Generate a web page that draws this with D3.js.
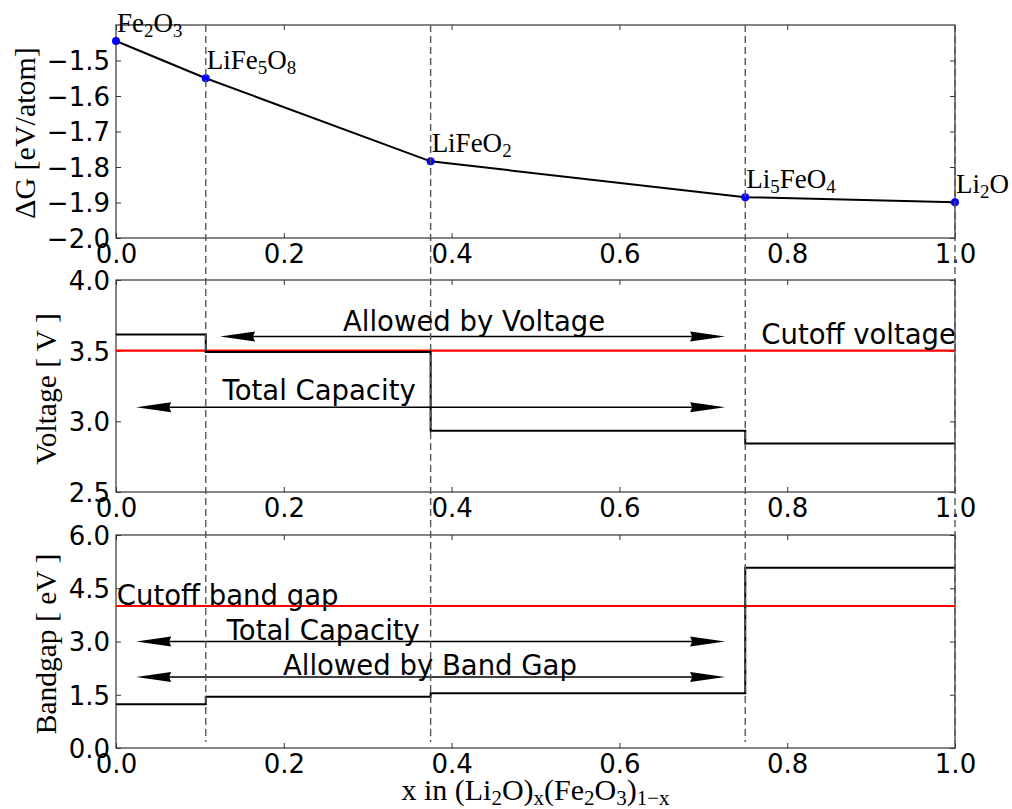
<!DOCTYPE html>
<html><head><meta charset="utf-8">
<script src="https://cdn.jsdelivr.net/npm/d3@7"></script>
<style>body{margin:0;background:#fff}</style>
</head><body>
<svg id="c" width="1012" height="809"></svg>
<script>
// ---------- data ----------
const phaseNames = [
  [["Fe",0],["2",1],["O",0],["3",1]],
  [["LiFe",0],["5",1],["O",0],["8",1]],
  [["LiFeO",0],["2",1]],
  [["Li",0],["5",1],["FeO",0],["4",1]],
  [["Li",0],["2",1],["O",0]]
];
const phaseX  = [0, 0.107, 0.375, 0.75, 1.0];
const deltaG  = [-1.445, -1.55, -1.784, -1.885, -1.899];
const voltage = [3.615, 3.49, 2.934, 2.844];
const bandgap = [1.23, 1.445, 1.54, 5.08];
const cutoffVoltage = 3.5;
const cutoffBandgap = 4.0;
const xTicks = [0, 0.2, 0.4, 0.6, 0.8, 1.0];
const gTicks = [-2.0, -1.9, -1.8, -1.7, -1.6, -1.5];
const vTicks = [2.5, 3.0, 3.5, 4.0];
const bTicks = [0, 1.5, 3.0, 4.5, 6.0];
const vArrowX1 = [0.124, 0.024];
const vArrowX2 = [0.726, 0.726];
const vArrowY  = [3.6, 3.1];
const vArrowLabels = ["Allowed by Voltage", "Total Capacity"];
const bArrowX1 = [0.024, 0.024];
const bArrowX2 = [0.726, 0.726];
const bArrowY  = [3.0, 2.0];
const bArrowLabels = ["Total Capacity", "Allowed by Band Gap"];

// ---------- layout ----------
const svg = d3.select("#c");
const L = 116, R = 955;
const SANS = "DejaVu Sans", SERIF = "Liberation Serif";
const FS = 26, AFS = 27.5;
const x = d3.scaleLinear().domain([0,1]).range([L,R]);
const panels = [
  {y: d3.scaleLinear().domain([-2.0,-1.4]).range([238,25]), ticks: gTicks, fmt: d=>d3.format(".1f")(d).replace("-","\u2212")},
  {y: d3.scaleLinear().domain([2.5,4.0]).range([492,280]), ticks: vTicks, fmt: d3.format(".1f")},
  {y: d3.scaleLinear().domain([0,6]).range([748,535]), ticks: bTicks, fmt: d3.format(".1f")}
];

function rich(sel, parts, size){
  const sh = size*0.17;
  let shift = 0;
  parts.forEach(([s,sub])=>{
    const t = sel.append("tspan").text(s);
    const want = sub ? sh : 0;
    if(sub) t.attr("font-size", size*0.7);
    t.attr("dy", want - shift);
    shift = want;
  });
  return sel;
}

// frames, ticks
panels.forEach(p=>{
  const [y0,y1] = p.y.range();
  const g = svg.append("g");
  g.append("rect").attr("x",L).attr("y",y1).attr("width",R-L).attr("height",y0-y1)
    .attr("fill","none").attr("stroke","#333").attr("stroke-width",1.2);
  g.append("g").attr("transform",`translate(0,${y0})`)
    .call(d3.axisBottom(x).tickValues(xTicks).tickSizeInner(-5).tickSizeOuter(0).tickFormat(d3.format(".1f")).tickPadding(7))
    .call(a=>{a.select(".domain").remove(); a.selectAll("line").attr("stroke","#333");
      a.selectAll("text").attr("font-family",SANS).attr("font-size",FS).attr("fill","#000").attr("dy","0.71em");});
  g.append("g").attr("transform",`translate(0,${y1})`)
    .call(d3.axisTop(x).tickValues(xTicks).tickSizeInner(-5).tickSizeOuter(0).tickFormat(""))
    .call(a=>{a.select(".domain").remove(); a.selectAll("line").attr("stroke","#333");});
  g.append("g").attr("transform",`translate(${L},0)`)
    .call(d3.axisLeft(p.y).tickValues(p.ticks).tickSizeInner(-5).tickSizeOuter(0).tickFormat(p.fmt).tickPadding(6))
    .call(a=>{a.select(".domain").remove(); a.selectAll("line").attr("stroke","#333");
      a.selectAll("text").attr("font-family",SANS).attr("font-size",FS).attr("fill","#000").attr("dy","0.36em");});
  g.append("g").attr("transform",`translate(${R},0)`)
    .call(d3.axisRight(p.y).tickValues(p.ticks).tickSizeInner(-5).tickSizeOuter(0).tickFormat(""))
    .call(a=>{a.select(".domain").remove(); a.selectAll("line").attr("stroke","#333");});
});

// ---------- panel 1 ----------
const p1 = panels[0];
const pts = phaseX.map((v,i)=>({x:v, g:deltaG[i], name:phaseNames[i]}));
svg.append("path").datum(pts)
  .attr("d", d3.line().x(d=>x(d.x)).y(d=>p1.y(d.g)))
  .attr("fill","none").attr("stroke","#000").attr("stroke-width",2);
svg.selectAll(".pt").data(pts).enter().append("circle")
  .attr("cx",d=>x(d.x)).attr("cy",d=>p1.y(d.g)).attr("r",4).attr("fill","#0000ff");
pts.forEach(d=>{
  const t = svg.append("text").attr("x",x(d.x)+1).attr("y",p1.y(d.g)-9)
    .attr("font-family",SERIF).attr("font-size",27).attr("fill","#000");
  rich(t, d.name, 27);
});

// ---------- step lines ----------
function stepPath(vals, yS){
  const segs = vals.map((v,i)=>({x:phaseX[i], v}));
  segs.push({x:phaseX[vals.length], v:vals[vals.length-1]});
  return d3.line().x(d=>x(d.x)).y(d=>yS(d.v)).curve(d3.curveStepAfter)(segs);
}
const p2 = panels[1], p3 = panels[2];
svg.append("line").attr("x1",L).attr("x2",R).attr("y1",p2.y(cutoffVoltage)).attr("y2",p2.y(cutoffVoltage))
  .attr("stroke","#ff0000").attr("stroke-width",2.2);
svg.append("path").attr("d",stepPath(voltage,p2.y)).attr("fill","none").attr("stroke","#000").attr("stroke-width",2);
svg.append("line").attr("x1",L).attr("x2",R).attr("y1",p3.y(cutoffBandgap)).attr("y2",p3.y(cutoffBandgap))
  .attr("stroke","#ff0000").attr("stroke-width",2.2);
svg.append("path").attr("d",stepPath(bandgap,p3.y)).attr("fill","none").attr("stroke","#000").attr("stroke-width",2);

// ---------- arrows ----------
function arrow(x1,x2,yv,yS){
  const y = yS(yv), a = x(x1), b = x(x2);
  const g = svg.append("g");
  g.append("line").attr("x1",a+10).attr("x2",b-10).attr("y1",y).attr("y2",y).attr("stroke","#000").attr("stroke-width",1.5);
  g.append("path").attr("d",`M${a},${y}L${a+35},${y-5}L${a+33},${y}L${a+35},${y+5}Z`).attr("fill","#000");
  g.append("path").attr("d",`M${b},${y}L${b-35},${y-5}L${b-33},${y}L${b-35},${y+5}Z`).attr("fill","#000");
}
function label(s, xv, yPix){
  svg.append("text").attr("x",x(xv)).attr("y",yPix).text(s)
    .attr("font-family",SANS).attr("font-size",AFS).attr("fill","#000");
}
vArrowY.forEach((v,i)=>arrow(vArrowX1[i],vArrowX2[i],v,p2.y));
bArrowY.forEach((v,i)=>arrow(bArrowX1[i],bArrowX2[i],v,p3.y));
const vLabelX = [0.2706, 0.127], vLabelDy = [-6, -7];
const bLabelX = [0.132, 0.199], bLabelDy = [-2, -2];
vArrowLabels.forEach((s,i)=>label(s, vLabelX[i], p2.y(vArrowY[i])+vLabelDy[i]));
bArrowLabels.forEach((s,i)=>label(s, bLabelX[i], p3.y(bArrowY[i])+bLabelDy[i]));
label("Cutoff voltage", 0.7691, p2.y(cutoffVoltage)-7);
label("Cutoff band gap", 0.001, p3.y(cutoffBandgap)-1);

// ---------- dashed phase lines ----------
phaseX.slice(1).forEach(v=>{
  svg.append("line").attr("x1",x(v)).attr("x2",x(v)).attr("y1",25).attr("y2",742)
    .attr("stroke","#555").attr("stroke-width",1.4).attr("stroke-dasharray","7,4");
});

// ---------- axis labels ----------
function ylab(parts, xp, yc, size){
  const t = svg.append("text").attr("transform",`translate(${xp},${yc}) rotate(-90)`)
    .attr("text-anchor","middle").attr("font-family",SERIF).attr("font-size",size).attr("fill","#000");
  rich(t, parts, size);
}
ylab([["\u0394G [eV/atom]",0]], 35, 133, 30);
ylab([["Voltage [ V ]",0]], 56, 389, 29.5);
ylab([["Bandgap [ eV ]",0]], 56, 644, 29.5);
const xl = svg.append("text").attr("x",(L+R)/2).attr("y",800).attr("text-anchor","middle")
  .attr("font-family",SERIF).attr("font-size",30).attr("fill","#000");
rich(xl, [["x in (Li",0],["2",1],["O)",0],["x",1],["(Fe",0],["2",1],["O",0],["3",1],[")",0],["1\u2212x",1]], 30);
</script>
</body></html>
